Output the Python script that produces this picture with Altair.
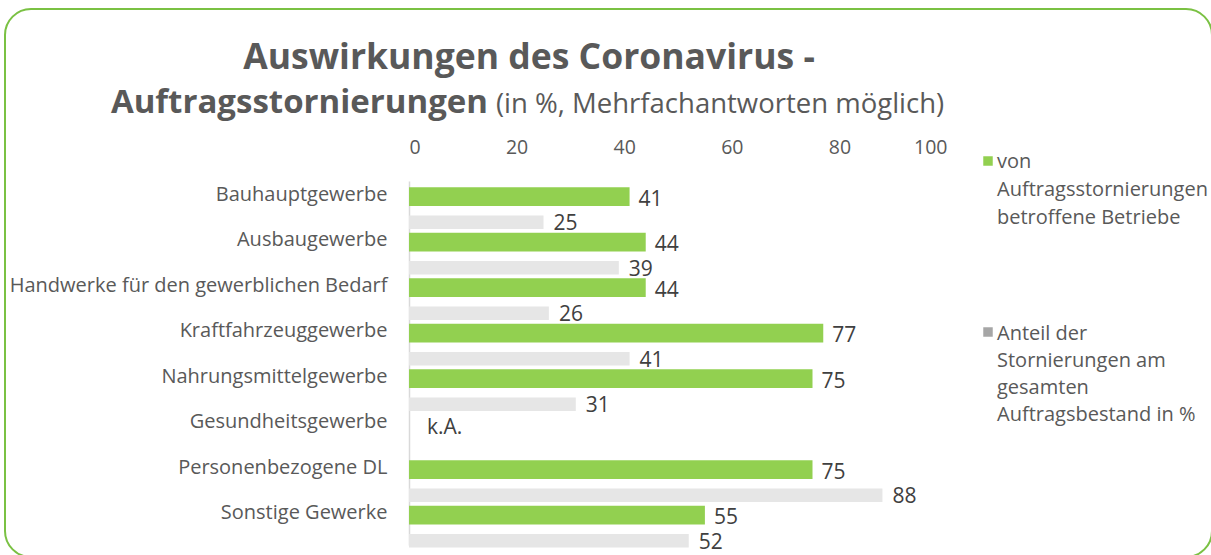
import altair as alt
import pandas as pd

categories = [
    "Bauhauptgewerbe",
    "Ausbaugewerbe",
    "Handwerke für den gewerblichen Bedarf",
    "Kraftfahrzeuggewerbe",
    "Nahrungsmittelgewerbe",
    "Gesundheitsgewerbe",
    "Personenbezogene DL",
    "Sonstige Gewerke",
]
series_names = [
    "von Auftragsstornierungen betroffene Betriebe",
    "Anteil der Stornierungen am gesamten Auftragsbestand in %",
]
green_values = [41, 44, 44, 77, 75, None, 75, 55]
grey_values = [25, 39, 26, 41, 31, None, 88, 52]
missing_label = "k.A."
x_ticks = [0, 20, 40, 60, 80, 100]

rows = []
for c, g, h in zip(categories, green_values, grey_values):
    rows.append({"cat": c, "series": series_names[0], "value": g,
                 "label": str(g) if g is not None else missing_label})
    rows.append({"cat": c, "series": series_names[1], "value": h,
                 "label": str(h) if h is not None else ""})
df = pd.DataFrame(rows)

FONT = "Open Sans"
TXT = "#595959"
W, H = 538, 364
GREEN = "#92D050"
GREY = "#E6E6E6"
G_OFF, R_OFF = -7.2, 18.5

x_enc = alt.X("value:Q", scale=alt.Scale(domain=[0, 100], nice=False),
              axis=alt.Axis(orient="top", values=x_ticks, ticks=False, domain=False,
                            grid=False, labelFontSize=19.5, labelColor=TXT, labelFont=FONT,
                            labelPadding=24, title=None))
y_enc = alt.Y("cat:N", sort=categories,
              scale=alt.Scale(paddingInner=0, paddingOuter=0),
              axis=alt.Axis(ticks=False, domainColor="#D9D9D9", domainWidth=1.5,
                            labelFontSize=20, labelColor=TXT, labelFont=FONT,
                            labelPadding=22, labelOffset=-9, labelLimit=500, title=None))

base = alt.Chart(df)

green_bars = base.transform_filter(
    alt.datum.series == series_names[0]
).transform_filter("isValid(datum.value)").mark_bar(
    color=GREEN, height=18.7, yOffset=G_OFF
).encode(x=x_enc, y=y_enc)

grey_bars = base.transform_filter(
    alt.datum.series == series_names[1]
).transform_filter("isValid(datum.value)").mark_bar(
    color=GREY, height=13.7, yOffset=R_OFF
).encode(x="value:Q", y=alt.Y("cat:N", sort=categories))

green_text = base.transform_filter(
    alt.datum.series == series_names[0]
).transform_filter("isValid(datum.value)").mark_text(
    align="left", baseline="middle", dx=9, yOffset=G_OFF + 3, fontSize=21,
    color="#404040", font=FONT
).encode(x="value:Q", y=alt.Y("cat:N", sort=categories), text="label:N")

grey_text = base.transform_filter(
    alt.datum.series == series_names[1]
).transform_filter("isValid(datum.value)").mark_text(
    align="left", baseline="middle", dx=10, yOffset=R_OFF + 2, fontSize=21,
    color="#404040", font=FONT
).encode(x="value:Q", y=alt.Y("cat:N", sort=categories), text="label:N")

ka_text = base.transform_filter(
    alt.datum.series == series_names[0]
).transform_filter("!isValid(datum.value)").transform_calculate(
    pos="0"
).mark_text(
    align="left", baseline="middle", dx=18, yOffset=G_OFF + 4, fontSize=21,
    color="#404040", font=FONT
).encode(x="pos:Q", y=alt.Y("cat:N", sort=categories), text="label:N")

# frame
frame = alt.Chart(pd.DataFrame({"a": [0]})).mark_rect(
    fill="transparent", stroke="#7AC143", strokeWidth=2, cornerRadius=26
).encode(x=alt.value(-404), x2=alt.value(803), y=alt.value(-172), y2=alt.value(376))

# titles
t1 = alt.Chart(pd.DataFrame({"t": ["Auswirkungen des Coronavirus -"]})).mark_text(
    align="center", baseline="alphabetic", fontSize=35.5, fontWeight="bold", font=FONT, color=TXT
).encode(text="t:N", x=alt.value(120), y=alt.value(-112))
t2 = alt.Chart(pd.DataFrame({"t": ["Auftragsstornierungen"]})).mark_text(
    align="right", baseline="alphabetic", fontSize=33, fontWeight="bold", font=FONT, color=TXT
).encode(text="t:N", x=alt.value(79), y=alt.value(-68))
t3 = alt.Chart(pd.DataFrame({"t": ["(in %, Mehrfachantworten möglich)"]})).mark_text(
    align="left", baseline="alphabetic", fontSize=27.5, font=FONT, color=TXT
).encode(text="t:N", x=alt.value(87), y=alt.value(-68))

# legend
leg_g_sq = alt.Chart(pd.DataFrame({"s": [series_names[0]]})).mark_square(
    size=90, color=GREEN, opacity=1
).encode(x=alt.value(579), y=alt.value(-20))
leg_r_sq = alt.Chart(pd.DataFrame({"s": [series_names[1]]})).mark_square(
    size=90, color="#A6A6A6", opacity=1
).encode(x=alt.value(579), y=alt.value(151))
leg_g_tx = alt.Chart(pd.DataFrame({"s": [series_names[0]]})).mark_text(
    align="left", baseline="middle", fontSize=20, font=FONT, color=TXT, lineHeight=28,
    lineBreak="|"
).encode(text=alt.value("von|Auftragsstornierungen|betroffene Betriebe"),
         x=alt.value(588), y=alt.value(-19))
leg_r_tx = alt.Chart(pd.DataFrame({"s": [series_names[1]]})).mark_text(
    align="left", baseline="middle", fontSize=20, font=FONT, color=TXT, lineHeight=27,
    lineBreak="|"
).encode(text=alt.value("Anteil der|Stornierungen am|gesamten|Auftragsbestand in %"),
         x=alt.value(588), y=alt.value(153))

chart = alt.layer(
    frame, green_bars, grey_bars, green_text, grey_text, ka_text,
    t1, t2, t3, leg_g_sq, leg_r_sq, leg_g_tx, leg_r_tx
).properties(
    width=W, height=H,
    autosize=alt.AutoSizeParams(type="none"),
    padding={"left": 409, "top": 181, "right": 1211 - 409 - W, "bottom": 555 - 181 - H},
    background="white",
).configure_view(stroke=None)

chart.save("out.html", embed_options={"renderer": "svg", "actions": False})
